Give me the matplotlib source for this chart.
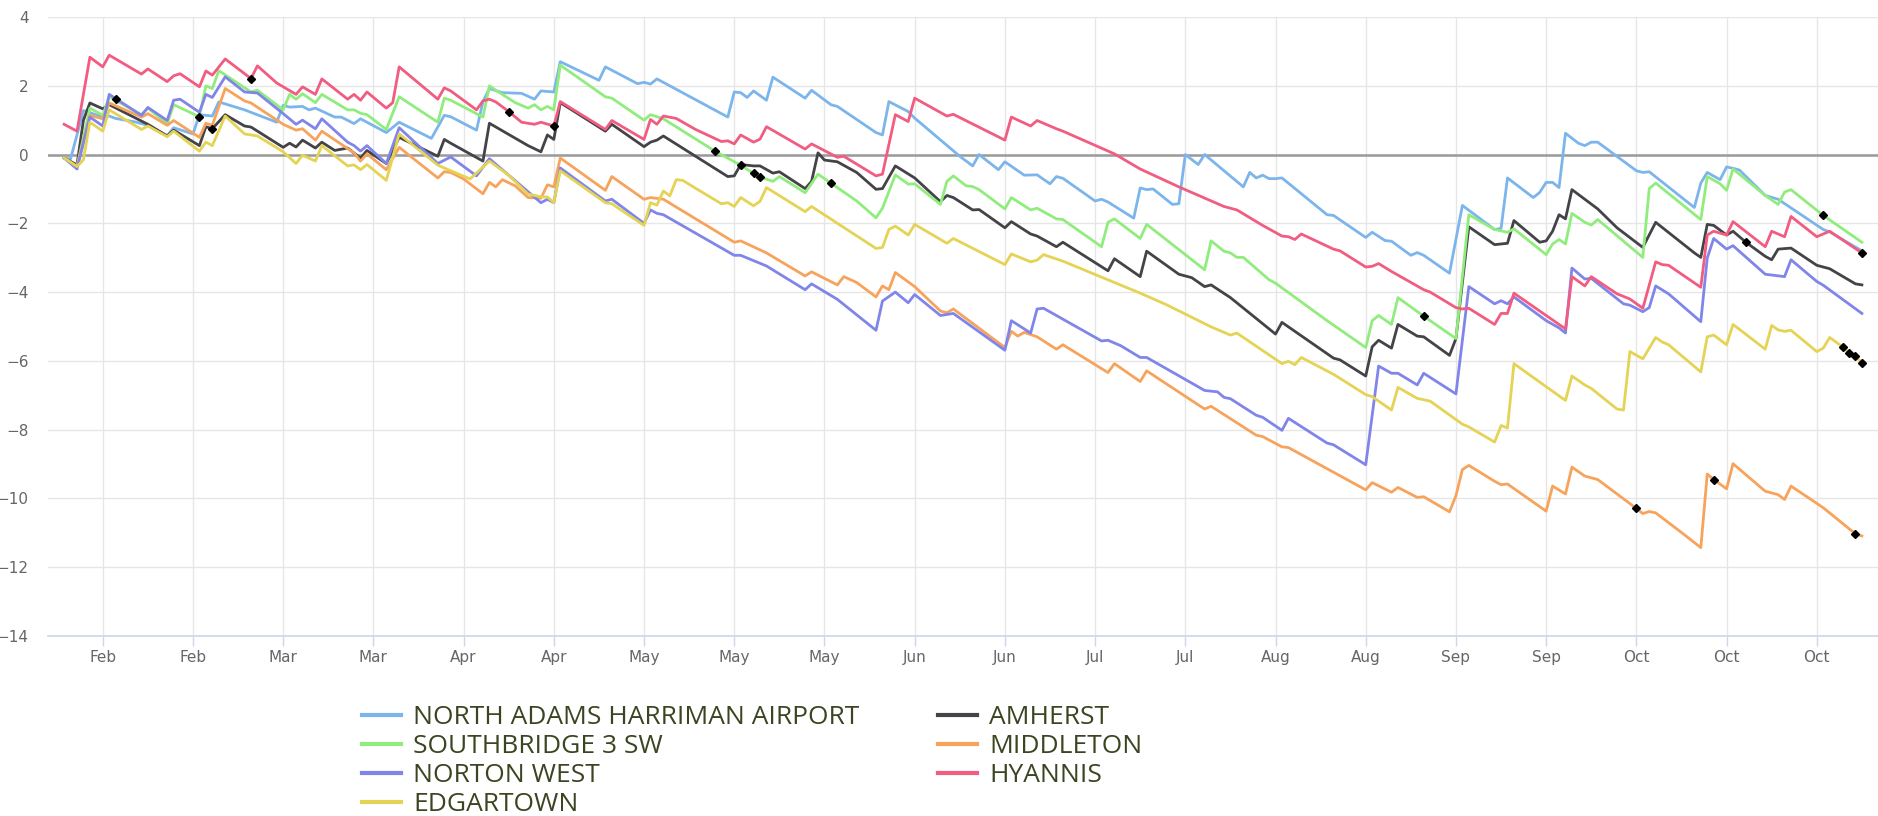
import numpy as np
import pandas as pd
import matplotlib
matplotlib.use("Agg")
import matplotlib.pyplot as plt
import matplotlib.dates as mdates

# reference date of the first axis tick (Monday, two-week tick interval)
BASE = pd.Timestamp("2023-02-06")

# (day offset from BASE, cumulative departure) vertices
north_adams = [(-6,-0.1),(-5,-0.13),(-3,1.28),(-2,1.22),(-1,1.15),(0,1.1),(1,1.12),(2,1.05),(5,0.95),(7,0.85),(10,0.55),(11,0.78),(14,0.6),(15,1.16),(17,1.12),(18,1.53),(22,1.3),(27,0.94),(28,1.43),(29,1.38),(31,1.4),(32,1.3),(33,1.35),(36,1.09),(37,1.09),(39,0.9),(40,1.04),(44,0.64),(46,0.94),(51,0.47),(53,1.14),(54,1.1),(58,0.71),(59,1.54),(60,1.92),(62,1.8),(65,1.78),(67,1.61),(68,1.85),(70,1.82),(71,2.7),(77,2.16),(78,2.55),(83,2.06),(84,2.1),(85,2.05),(86,2.2),(96,1.19),(97,1.09),(98,1.82),(99,1.8),(100,1.66),(101,1.85),(103,1.58),(104,2.25),(109,1.64),(110,1.87),(113,1.45),(114,1.4),(120,0.64),(121,0.57),(122,1.54),(125,1.25),(126,1.06),(133,-0.05),(135,-0.33),(136,0.0),(139,-0.44),(140,-0.21),(143,-0.6),(145,-0.59),(147,-0.85),(148,-0.64),(149,-0.69),(154,-1.35),(155,-1.3),(156,-1.38),(160,-1.85),(161,-0.97),(162,-1.02),(163,-1.0),(166,-1.45),(167,-1.43),(168,0.0),(170,-0.29),(171,0.0),(177,-0.94),(178,-0.52),(179,-0.68),(180,-0.6),(181,-0.7),(182,-0.7),(183,-0.68),(190,-1.75),(191,-1.77),(196,-2.41),(197,-2.26),(199,-2.5),(200,-2.52),(203,-2.93),(204,-2.85),(205,-2.93),(209,-3.45),(211,-1.48),(216,-2.18),(217,-2.15),(218,-0.68),(222,-1.25),(223,-1.1),(224,-0.81),(225,-0.81),(226,-0.96),(227,0.62),(229,0.33),(230,0.26),(231,0.36),(232,0.36),(238,-0.47),(239,-0.52),(240,-0.5),(247,-1.54),(248,-0.83),(249,-0.52),(251,-0.73),(252,-0.36),(253,-0.4),(254,-0.45),(258,-1.19),(260,-1.3),(267,-2.18),(268,-2.25),(273,-2.8)]

amherst = [(-6,-0.1),(-4,-0.3),(-3,1.0),(-2,1.5),(0,1.33),(1,1.45),(7,0.88),(10,0.54),(11,0.71),(15,0.26),(16,0.81),(17,0.75),(19,1.16),(22,0.83),(23,0.8),(28,0.21),(29,0.33),(30,0.22),(31,0.42),(33,0.19),(34,0.36),(36,0.12),(38,0.19),(40,-0.1),(41,0.12),(44,-0.26),(46,0.5),(52,-0.05),(53,0.44),(54,0.33),(59,-0.19),(60,0.91),(66,0.26),(68,0.08),(69,0.57),(70,0.44),(71,1.51),(78,0.68),(79,0.88),(84,0.23),(85,0.36),(86,0.42),(87,0.54),(97,-0.64),(98,-0.62),(99,-0.29),(101,-0.33),(102,-0.33),(104,-0.54),(105,-0.5),(109,-0.99),(110,-0.78),(111,0.05),(112,-0.16),(114,-0.21),(117,-0.52),(120,-1.01),(121,-0.99),(123,-0.33),(126,-0.68),(130,-1.37),(131,-1.19),(132,-1.25),(135,-1.61),(136,-1.6),(140,-2.13),(141,-1.95),(144,-2.31),(145,-2.37),(148,-2.68),(149,-2.55),(156,-3.38),(157,-3.03),(161,-3.55),(162,-2.81),(167,-3.48),(169,-3.58),(171,-3.84),(172,-3.79),(175,-4.16),(182,-5.22),(183,-4.88),(191,-5.92),(192,-5.97),(196,-6.44),(197,-5.59),(198,-5.4),(200,-5.63),(201,-4.94),(204,-5.28),(205,-5.3),(209,-5.84),(210,-5.35),(212,-2.1),(216,-2.62),(218,-2.58),(219,-1.92),(223,-2.55),(224,-2.51),(225,-2.23),(226,-1.75),(227,-1.87),(228,-1.02),(232,-1.58),(235,-2.13),(239,-2.7),(241,-1.97),(247,-2.86),(248,-2.99),(249,-2.03),(250,-2.06),(252,-2.34),(253,-2.23),(255,-2.55),(258,-2.96),(259,-3.06),(260,-2.75),(262,-2.72),(266,-3.22),(268,-3.32),(272,-3.76),(273,-3.79)]

southbridge = [(-6,-0.1),(-4,-0.35),(-2,1.35),(0,1.14),(1,1.68),(6,1.16),(7,1.35),(10,0.9),(11,1.45),(15,1.1),(16,2.0),(17,1.92),(18,2.44),(23,1.82),(24,1.87),(28,1.3),(29,1.75),(30,1.61),(31,1.77),(33,1.51),(34,1.75),(38,1.3),(39,1.3),(40,1.2),(41,1.16),(44,0.73),(46,1.68),(52,0.94),(53,1.64),(54,1.58),(59,1.09),(60,2.0),(61,1.87),(64,1.51),(66,1.35),(67,1.45),(68,1.3),(69,1.4),(70,1.3),(71,2.6),(78,1.68),(79,1.64),(84,1.0),(85,1.16),(87,1.04),(95,0.1),(99,-0.31),(101,-0.55),(102,-0.65),(104,-0.78),(105,-0.64),(109,-1.11),(111,-0.57),(113,-0.83),(117,-1.35),(120,-1.84),(121,-1.56),(123,-0.59),(125,-0.86),(126,-0.85),(130,-1.45),(131,-0.78),(132,-0.62),(134,-0.91),(135,-0.93),(136,-1.02),(140,-1.58),(141,-1.25),(144,-1.61),(145,-1.56),(148,-1.87),(149,-1.89),(155,-2.68),(156,-1.97),(157,-1.87),(161,-2.44),(162,-2.03),(171,-3.35),(172,-2.51),(174,-2.81),(175,-2.86),(176,-2.99),(177,-2.99),(181,-3.64),(182,-3.74),(190,-4.83),(196,-5.61),(197,-4.83),(198,-4.68),(200,-4.94),(201,-4.16),(205,-4.7),(210,-5.35),(212,-1.75),(216,-2.18),(218,-2.26),(219,-2.16),(224,-2.91),(225,-2.6),(226,-2.47),(227,-2.6),(228,-1.71),(230,-1.97),(231,-2.05),(232,-1.89),(239,-2.99),(240,-0.99),(241,-0.83),(248,-1.89),(249,-0.64),(251,-0.85),(252,-1.04),(253,-0.42),(258,-1.19),(260,-1.45),(261,-1.09),(262,-1.02),(267,-1.77),(273,-2.55)]

middleton = [(-6,-0.1),(-4,-0.35),(-2,1.14),(0,1.04),(1,1.5),(6,1.09),(7,1.19),(10,0.85),(11,0.99),(15,0.5),(16,0.91),(17,0.85),(19,1.92),(22,1.56),(23,1.5),(28,0.88),(30,0.71),(31,0.75),(33,0.42),(34,0.68),(37,0.3),(39,0.05),(40,-0.19),(41,0.02),(44,-0.44),(46,0.21),(52,-0.68),(53,-0.5),(54,-0.52),(56,-0.71),(59,-1.14),(60,-0.81),(61,-0.94),(62,-0.73),(64,-0.91),(66,-1.25),(68,-1.27),(69,-0.88),(70,-0.94),(71,-0.1),(78,-1.04),(79,-0.64),(84,-1.3),(85,-1.25),(87,-1.3),(98,-2.55),(99,-2.51),(103,-2.86),(109,-3.53),(110,-3.41),(114,-3.79),(115,-3.55),(117,-3.72),(120,-4.14),(121,-3.82),(122,-3.93),(123,-3.43),(126,-3.84),(130,-4.55),(131,-4.6),(132,-4.49),(140,-5.61),(141,-5.14),(142,-5.28),(143,-5.17),(145,-5.3),(148,-5.66),(149,-5.53),(156,-6.34),(157,-6.08),(161,-6.6),(162,-6.29),(171,-7.4),(172,-7.32),(179,-8.16),(180,-8.2),(183,-8.5),(184,-8.52),(196,-9.75),(197,-9.54),(200,-9.82),(201,-9.68),(204,-9.97),(205,-9.95),(209,-10.39),(210,-9.92),(211,-9.16),(212,-9.04),(216,-9.5),(217,-9.6),(218,-9.58),(224,-10.37),(225,-9.64),(227,-9.87),(228,-9.09),(230,-9.35),(232,-9.45),(238,-10.29),(239,-10.44),(240,-10.38),(241,-10.42),(245,-10.99),(248,-11.43),(249,-9.29),(250,-9.45),(252,-9.72),(253,-8.99),(258,-9.79),(260,-9.89),(261,-10.03),(262,-9.64),(267,-10.27),(272,-11.03),(273,-11.09)]

norton_west = [(-6,-0.1),(-4,-0.42),(-2,1.09),(0,0.83),(1,1.75),(6,1.14),(7,1.37),(10,0.99),(11,1.58),(12,1.61),(15,1.23),(16,1.75),(17,1.66),(19,2.26),(22,1.82),(24,1.79),(28,1.19),(30,0.88),(31,1.0),(33,0.75),(34,1.04),(38,0.36),(39,0.26),(40,0.1),(41,0.26),(44,-0.26),(46,0.78),(52,-0.26),(54,-0.07),(58,-0.62),(60,-0.12),(68,-1.4),(69,-1.3),(70,-1.4),(71,-0.39),(78,-1.35),(79,-1.3),(84,-2.0),(85,-1.61),(86,-1.71),(87,-1.75),(98,-2.93),(99,-2.93),(103,-3.24),(109,-3.93),(110,-3.76),(114,-4.21),(120,-5.11),(121,-4.26),(123,-4.0),(125,-4.31),(126,-4.07),(130,-4.68),(132,-4.62),(140,-5.69),(141,-4.83),(144,-5.19),(145,-4.49),(146,-4.47),(155,-5.42),(156,-5.4),(158,-5.56),(161,-5.9),(162,-5.9),(171,-6.86),(173,-6.9),(174,-7.06),(175,-7.1),(179,-7.58),(180,-7.64),(183,-8.02),(184,-7.67),(190,-8.39),(191,-8.44),(196,-9.02),(198,-6.15),(200,-6.36),(201,-6.36),(204,-6.7),(205,-6.36),(210,-6.96),(212,-3.84),(216,-4.34),(217,-4.25),(218,-4.34),(219,-4.14),(224,-4.83),(226,-5.04),(227,-5.19),(228,-3.3),(230,-3.62),(231,-3.6),(236,-4.34),(237,-4.38),(239,-4.57),(240,-4.45),(241,-3.82),(243,-4.05),(248,-4.86),(249,-3.01),(250,-2.44),(252,-2.75),(253,-2.65),(258,-3.48),(261,-3.55),(262,-3.06),(266,-3.69),(267,-3.8),(273,-4.62)]

hyannis = [(-6,0.88),(-4,0.68),(-2,2.83),(0,2.55),(1,2.89),(6,2.34),(7,2.49),(10,2.12),(11,2.29),(12,2.35),(15,1.97),(16,2.43),(17,2.31),(19,2.78),(23,2.21),(24,2.58),(27,2.08),(30,1.75),(31,1.97),(33,1.75),(34,2.2),(38,1.61),(39,1.75),(40,1.58),(41,1.82),(44,1.35),(45,1.51),(46,2.55),(52,1.61),(53,1.94),(54,1.85),(58,1.3),(59,1.56),(60,1.61),(61,1.53),(63,1.25),(65,0.94),(67,0.88),(68,0.94),(70,0.83),(71,1.54),(78,0.73),(79,0.99),(84,0.44),(85,1.02),(86,0.88),(87,1.12),(89,1.05),(92,0.73),(96,0.38),(97,0.4),(98,0.31),(99,0.57),(101,0.36),(102,0.45),(103,0.81),(109,0.16),(110,0.31),(114,-0.08),(115,-0.05),(120,-0.62),(121,-0.57),(123,1.16),(125,0.96),(126,1.64),(131,1.12),(132,1.17),(140,0.42),(141,1.09),(144,0.83),(145,0.99),(148,0.75),(149,0.68),(157,0.02),(161,-0.42),(167,-0.94),(174,-1.51),(176,-1.61),(180,-2.06),(183,-2.37),(184,-2.39),(185,-2.47),(186,-2.31),(191,-2.75),(192,-2.8),(196,-3.27),(197,-3.25),(198,-3.17),(200,-3.4),(205,-3.93),(206,-4.0),(210,-4.45),(211,-4.49),(212,-4.47),(216,-4.94),(217,-4.62),(218,-4.62),(219,-4.03),(224,-4.68),(227,-5.07),(228,-3.55),(230,-3.82),(231,-3.55),(235,-4.05),(237,-4.2),(239,-4.47),(241,-3.12),(242,-3.2),(243,-3.22),(248,-3.86),(249,-2.34),(250,-2.23),(252,-2.34),(253,-1.95),(258,-2.68),(259,-2.23),(261,-2.39),(262,-1.8),(266,-2.39),(268,-2.23),(273,-2.86)]

edgartown = [(-6,-0.1),(-4,-0.35),(-3,-0.15),(-2,0.94),(0,0.68),(1,1.3),(6,0.73),(7,0.83),(10,0.52),(11,0.68),(15,0.1),(16,0.36),(17,0.26),(19,1.12),(22,0.6),(24,0.54),(28,0.08),(30,-0.26),(31,-0.02),(33,-0.19),(34,0.26),(38,-0.33),(39,-0.3),(40,-0.44),(41,-0.29),(44,-0.75),(46,0.6),(52,-0.31),(57,-0.71),(60,-0.19),(63,-0.6),(66,-1.15),(68,-1.23),(69,-1.23),(70,-1.4),(71,-0.47),(78,-1.4),(79,-1.43),(84,-2.06),(85,-1.4),(86,-1.47),(87,-1.06),(88,-1.2),(89,-0.73),(90,-0.75),(92,-0.98),(96,-1.43),(97,-1.4),(98,-1.51),(99,-1.25),(101,-1.49),(102,-1.36),(103,-0.96),(109,-1.66),(110,-1.51),(120,-2.73),(121,-2.7),(122,-2.18),(123,-2.08),(125,-2.34),(126,-2.03),(131,-2.58),(132,-2.44),(140,-3.2),(141,-2.89),(144,-3.12),(145,-3.07),(146,-2.91),(149,-3.1),(161,-4.03),(165,-4.36),(172,-5.01),(175,-5.25),(176,-5.19),(183,-6.08),(184,-6.01),(185,-6.11),(186,-5.9),(191,-6.39),(196,-6.98),(197,-7.04),(200,-7.43),(201,-6.77),(204,-7.09),(206,-7.17),(211,-7.84),(212,-7.92),(216,-8.36),(217,-7.88),(218,-7.95),(219,-6.08),(224,-6.75),(227,-7.15),(228,-6.44),(230,-6.7),(231,-6.8),(235,-7.4),(236,-7.43),(237,-5.73),(239,-5.94),(241,-5.32),(242,-5.45),(243,-5.53),(248,-6.32),(249,-5.3),(250,-5.25),(252,-5.53),(253,-4.94),(258,-5.66),(259,-4.97),(260,-5.1),(261,-5.14),(262,-5.11),(266,-5.73),(267,-5.63),(268,-5.32),(270,-5.59),(271,-5.77),(272,-5.87),(273,-6.05)]

series_names = ["NORTH ADAMS HARRIMAN AIRPORT", "AMHERST", "SOUTHBRIDGE 3 SW",
                "MIDDLETON", "NORTON WEST", "HYANNIS", "EDGARTOWN"]
series_data = [north_adams, amherst, southbridge, middleton, norton_west, hyannis, edgartown]
series_colors = ["#7cb5ec", "#434348", "#90ed7d", "#f7a35c", "#8085e9", "#f15c80", "#e4d354"]

# days flagged with black diamond markers, per series
flag_days = {
    "NORTON WEST": [2],
    "SOUTHBRIDGE 3 SW": [15, 95, 99, 101, 102, 113, 205, 267],
    "AMHERST": [17, 255],
    "HYANNIS": [23, 63, 70, 273],
    "EDGARTOWN": [270, 271, 272, 273],
    "MIDDLETON": [238, 250, 272],
}

tick_days = list(range(0, 267, 14))
y_ticks = list(range(-14, 5, 2))

W, H = 1878, 816
fig = plt.figure(figsize=(W / 100, H / 100), dpi=100)
ax = fig.add_axes([48 / W, 1 - 636 / H, (W - 48) / W, (636 - 17) / H])

def to_dates(days):
    return BASE + pd.to_timedelta(np.asarray(days, dtype=float), unit="D")

lines = {}
for i, (name, data, col) in enumerate(zip(series_names, series_data, series_colors)):
    d = [p[0] for p in data]
    v = [p[1] for p in data]
    ln, = ax.plot(to_dates(d), v, color=col, lw=2.0, label=name, zorder=3 + i,
                  solid_joinstyle="round")
    lines[name] = ln
    if name in flag_days:
        fd = flag_days[name]
        fv = np.interp(fd, d, v)
        ax.plot(to_dates(fd), fv, linestyle="none", marker="D", ms=4.2,
                color="black", zorder=20)

ax.axhline(0, color="#9a9a9a", lw=1.8, zorder=2)

ax.set_ylim(-14, 4)
ax.set_xlim(to_dates([-8.5])[0], to_dates([275.5])[0])
ax.set_yticks(y_ticks)
ax.set_xticks(to_dates(tick_days))
ax.xaxis.set_major_formatter(mdates.DateFormatter("%b"))

ax.grid(True, color="#e6e6e6", lw=1.0, zorder=0)
ax.set_axisbelow(True)
for s in ["top", "right", "left"]:
    ax.spines[s].set_visible(False)
ax.spines["bottom"].set_color("#ccd6eb")
ax.spines["bottom"].set_linewidth(1.2)
ax.tick_params(axis="y", length=0, pad=14, labelsize=11, labelcolor="#666666")
ax.tick_params(axis="x", length=7, width=1, color="#ccd6eb", pad=3,
               labelsize=11, labelcolor="#666666")

order = ["NORTH ADAMS HARRIMAN AIRPORT", "SOUTHBRIDGE 3 SW", "NORTON WEST", "EDGARTOWN",
         "AMHERST", "MIDDLETON", "HYANNIS"]
leg = fig.legend([lines[n] for n in order], order, ncol=2, loc="upper left",
                 bbox_to_anchor=(362 / W, 1 - 705 / H), frameon=False,
                 prop={"family": "Open Sans", "size": 19},
                 handlelength=1.48, handletextpad=0.45, columnspacing=3.0,
                 labelspacing=0.15, borderpad=0, borderaxespad=0)
for t in leg.get_texts():
    t.set_color("#3b4521")
for h in leg.legend_handles:
    h.set_linewidth(3)

fig.savefig("out.png", dpi=100)
